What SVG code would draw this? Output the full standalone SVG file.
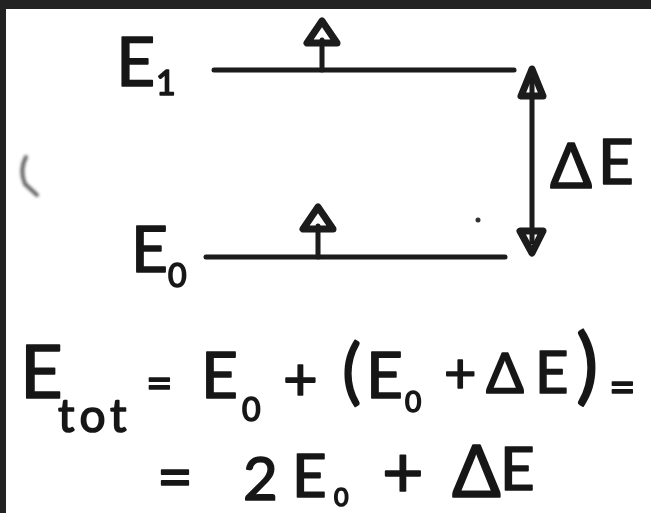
<svg xmlns="http://www.w3.org/2000/svg" width="651" height="513" viewBox="0 0 651 513">
  <defs>
    <style>
      .hw { font-family: Lato, "DejaVu Sans", "Liberation Sans", sans-serif; fill: #161616; stroke: #161616; stroke-width: 1.6; stroke-linejoin: round; }
      .ln { stroke: #1a1a1a; stroke-width: 5; stroke-linecap: round; fill: none; }
      .head { stroke: #1a1a1a; stroke-width: 7; stroke-linejoin: round; fill: none; }
    </style>
    <filter id="soft" x="-10%" y="-10%" width="120%" height="120%">
      <feGaussianBlur stdDeviation="0.7"/>
    </filter>
    <filter id="blurmark" x="-50%" y="-50%" width="200%" height="200%">
      <feGaussianBlur stdDeviation="1.6"/>
    </filter>
  </defs>

  <rect x="0" y="0" width="651" height="513" fill="#ffffff"/>
  <rect x="0" y="0" width="651" height="9" fill="#222222"/>
  <rect x="0" y="0" width="6" height="513" fill="#222222"/>

  <g filter="url(#soft)">
    <g id="level-E1">
      <line class="ln" x1="214" y1="70" x2="514" y2="70"/>
      <text class="hw"><tspan x="116" y="86" font-size="68">E</tspan><tspan x="156" y="95" font-size="34">1</tspan></text>
    </g>

    <g id="level-E0">
      <line class="ln" x1="206" y1="257" x2="505" y2="257"/>
      <text class="hw"><tspan x="131" y="272" font-size="64">E</tspan><tspan x="168" y="287" font-size="32">0</tspan></text>
      <circle cx="478" cy="220" r="2.5" fill="#333"/>
    </g>

    <g id="gap-label">
      <text class="hw"><tspan x="550" y="188" font-size="62">Δ</tspan><tspan x="598" y="184" font-size="62">E</tspan></text>
    </g>

    <g id="connectors">
      <g id="spin-E1">
        <line class="ln" x1="322" y1="70" x2="322" y2="40"/>
        <polygon class="head" points="322,21 307,43 337,43"/>
      </g>
      <g id="spin-E0">
        <line class="ln" x1="318" y1="257" x2="318" y2="226"/>
        <polygon class="head" points="318,207 303,229 333,229"/>
      </g>
      <g id="delta-arrow">
        <line class="ln" x1="532" y1="80" x2="532" y2="242"/>
        <polygon class="head" points="532,69 521,96 543,96"/>
        <polygon class="head" points="532,253 520,231 543,231"/>
      </g>
    </g>

    <g id="equation-line1">
      <text class="hw">
        <tspan x="20" y="398" font-size="74">E</tspan>
        <tspan x="58" y="432" font-size="46" letter-spacing="5">tot</tspan>
        <tspan x="146" y="399" font-size="46">=</tspan>
        <tspan x="201" y="398" font-size="64">E</tspan>
        <tspan x="242" y="421" font-size="32">0</tspan>
        <tspan x="283" y="400" font-size="60">+</tspan>
        <tspan x="342" y="396" font-size="72">(</tspan>
        <tspan x="366" y="398" font-size="64">E</tspan>
        <tspan x="405" y="412" font-size="28">0</tspan>
        <tspan x="444" y="393" font-size="56">+</tspan>
        <tspan x="486" y="393" font-size="56">Δ</tspan>
        <tspan x="535" y="393" font-size="58">E</tspan>
        <tspan x="576" y="394" font-size="84">)</tspan>
        <tspan x="609" y="403" font-size="46">=</tspan>
      </text>
    </g>

    <g id="equation-line2">
      <text class="hw">
        <tspan x="157" y="499" font-size="62">=</tspan>
        <tspan x="243" y="500" font-size="60">2</tspan>
        <tspan x="292" y="497" font-size="60">E</tspan>
        <tspan x="334" y="506" font-size="25">0</tspan>
        <tspan x="382" y="497" font-size="72">+</tspan>
        <tspan x="452" y="497" font-size="72">Δ</tspan>
        <tspan x="500" y="490" font-size="60">E</tspan>
      </text>
    </g>
  </g>

  <path d="M26,157 Q19,170 25,184 L37,195" fill="none" stroke="#666" stroke-width="4" stroke-linecap="round" filter="url(#blurmark)"/>
</svg>
